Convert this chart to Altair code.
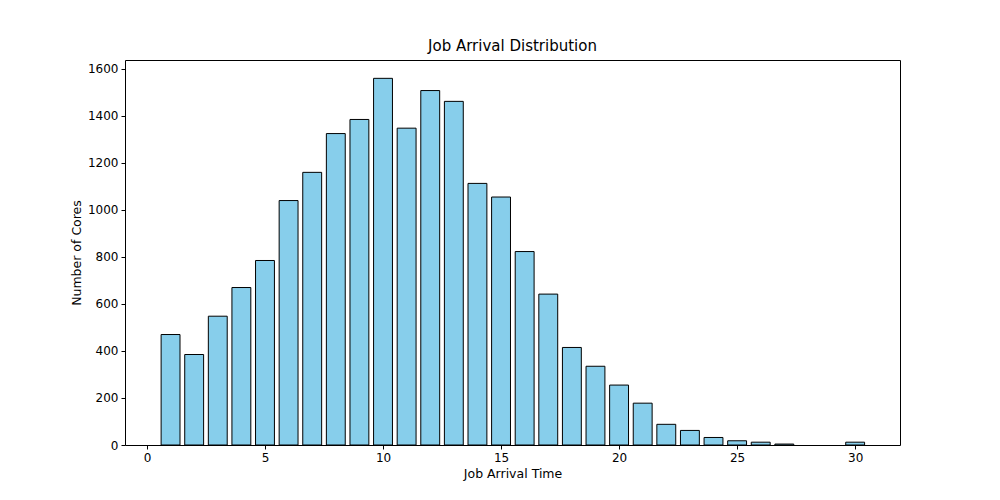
import pandas as pd
import altair as alt

arrival_time = [1, 2, 3, 4, 5, 6, 7, 8, 9, 10, 11, 12, 13, 14, 15, 16, 17, 18, 19, 20,
                21, 22, 23, 24, 25, 26, 27, 30]
cores = [470, 385, 548, 670, 785, 1040, 1160, 1325, 1385, 1560, 1348, 1508, 1462, 1113,
         1055, 823, 642, 415, 335, 255, 178, 88, 62, 32, 18, 12, 4, 12]

df = pd.DataFrame({'t': arrival_time, 'cores': cores})
df['x0'] = df['t'] - 0.4
df['x1'] = df['t'] + 0.4
df['base'] = 0

chart = alt.Chart(df).mark_bar(color='#87ceeb', stroke='black', strokeWidth=1).encode(
    x=alt.X('x0:Q', title='Job Arrival Time',
            scale=alt.Scale(domain=[-0.93, 31.9], nice=False, zero=False),
            axis=alt.Axis(values=[0, 5, 10, 15, 20, 25, 30], format='d')),
    x2='x1:Q',
    y=alt.Y('cores:Q', title='Number of Cores',
            scale=alt.Scale(domain=[0, 1638], nice=False),
            axis=alt.Axis(values=list(range(0, 1601, 200)), format='d')),
    y2='base:Q',
    tooltip=['t', 'cores'],
).properties(
    width=775, height=385,
    title=alt.TitleParams('Job Arrival Distribution', fontSize=15, fontWeight='normal',
                          font='DejaVu Sans', color='black', offset=6),
    autosize=alt.AutoSizeParams(type='none'),
    padding={'left': 117, 'top': 52, 'right': 92, 'bottom': 47},
).configure_view(
    stroke='black', strokeWidth=1
).configure_axis(
    grid=False, domain=False, tickColor='black', labelColor='black', titleColor='black',
    labelFont='DejaVu Sans', titleFont='DejaVu Sans', labelFontSize=12, titleFontSize=12.5,
    titleFontWeight='normal', tickSize=4, labelPadding=3
)

chart.save("out.html", embed_options={"renderer": "svg", "actions": False})
